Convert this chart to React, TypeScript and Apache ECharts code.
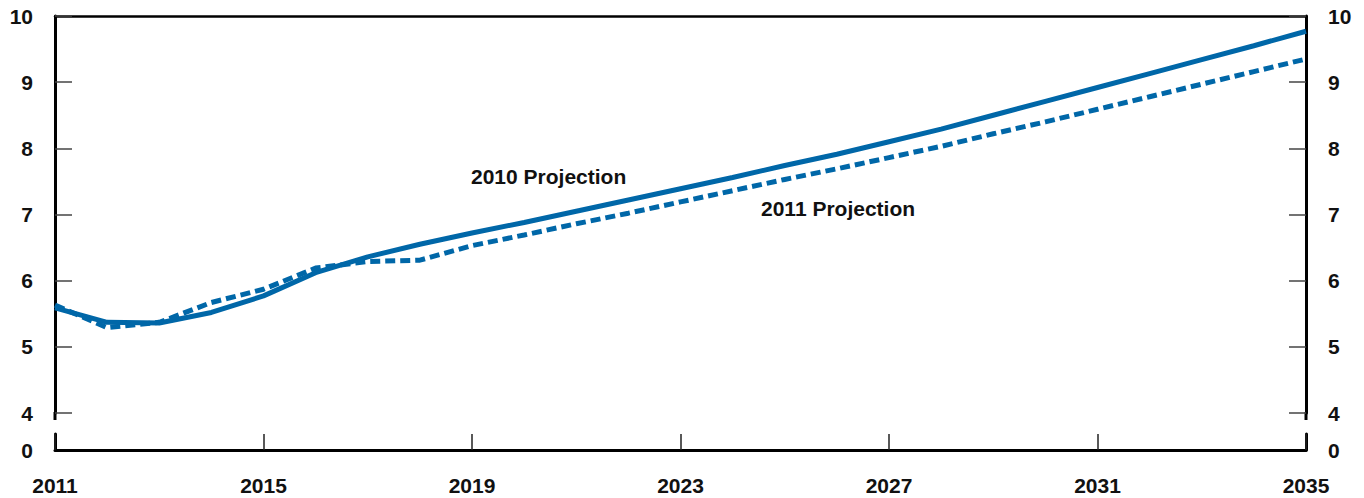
import React, { useEffect, useRef } from "react";
import * as echarts from "echarts";

const years = [
  "2011", "2012", "2013", "2014", "2015", "2016", "2017", "2018", "2019", "2020",
  "2021", "2022", "2023", "2024", "2025", "2026", "2027", "2028", "2029", "2030",
  "2031", "2032", "2033", "2034", "2035",
];

const proj2010 = [
  5.59, 5.37, 5.36, 5.52, 5.77, 6.12, 6.36, 6.55, 6.72, 6.88,
  7.05, 7.22, 7.39, 7.56, 7.74, 7.91, 8.1, 8.29, 8.5, 8.71,
  8.92, 9.13, 9.34, 9.55, 9.77,
];

const proj2011 = [
  5.63, 5.29, 5.37, 5.67, 5.87, 6.19, 6.29, 6.31, 6.53, 6.69,
  6.86, 7.02, 7.19, 7.36, 7.53, 7.69, 7.86, 8.03, 8.22, 8.4,
  8.59, 8.78, 8.97, 9.16, 9.35,
];

const seriesNames = ["2010 Projection", "2011 Projection"];

const BLUE = "#0067a8";
const FONT = "'Liberation Sans', Arial, sans-serif";
const FS = 21;
const labelStyle = {
  fontFamily: FONT,
  fontWeight: "bold" as const,
  fontSize: FS,
  color: "#111",
};

export default function App() {
  const ref = useRef<HTMLDivElement>(null);

  useEffect(() => {
    document.body.style.margin = "0";
    if (!ref.current) return;
    const chart = echarts.init(ref.current, null, { renderer: "svg" });

    const mainY = (position: "left" | "right") => ({
      gridIndex: 0,
      type: "value",
      min: 4,
      max: 10,
      interval: 1,
      position,
      axisLine: { show: true, onZero: false, lineStyle: { color: "#000", width: 3 } },
      axisTick: { show: true, inside: true, length: 17, lineStyle: { color: "#444", width: 1.5 } },
      axisLabel: { ...labelStyle, margin: 22 },
      splitLine: { show: false },
    });

    const lowY = (position: "left" | "right") => ({
      gridIndex: 1,
      type: "value",
      min: 0,
      max: 1,
      interval: 1,
      position,
      axisLine: { show: true, onZero: false, lineStyle: { color: "#000", width: 3 } },
      axisTick: { show: false },
      axisLabel: {
        ...labelStyle,
        margin: 22,
        formatter: (v: number) => (v === 0 ? "0" : ""),
      },
      splitLine: { show: false },
    });

    const option = {
      animation: false,
      grid: [
        { left: 55, right: 58, top: 16, height: 397 },
        { left: 55, right: 58, top: 434, height: 16 },
      ],
      xAxis: [
        {
          gridIndex: 0,
          type: "category",
          data: years,
          boundaryGap: false,
          position: "top",
          axisLine: { show: true, onZero: false, lineStyle: { color: "#000", width: 2.5 } },
          axisTick: { show: false },
          axisLabel: { show: false },
          splitLine: { show: false },
        },
        {
          gridIndex: 1,
          type: "category",
          data: years,
          boundaryGap: false,
          position: "bottom",
          axisLine: { show: true, onZero: false, lineStyle: { color: "#000", width: 3 } },
          axisTick: {
            show: true,
            inside: true,
            length: 16,
            interval: 3,
            lineStyle: { color: "#222", width: 1.5 },
          },
          axisLabel: { ...labelStyle, interval: 3, margin: 25 },
          splitLine: { show: false },
        },
      ],
      yAxis: [mainY("left"), mainY("right"), lowY("left"), lowY("right")],
      series: [
        {
          name: seriesNames[0],
          type: "line",
          xAxisIndex: 0,
          yAxisIndex: 0,
          data: proj2010,
          symbol: "none",
          lineStyle: { color: BLUE, width: 5 },
        },
        {
          name: seriesNames[1],
          type: "line",
          xAxisIndex: 0,
          yAxisIndex: 0,
          data: proj2011,
          symbol: "none",
          lineStyle: { color: BLUE, width: 5, type: [10, 5] },
        },
      ],
      graphic: [
        { type: "line", shape: { x1: 55, y1: 412, x2: 55, y2: 420 }, style: { stroke: "#000", lineWidth: 3 } },
        { type: "line", shape: { x1: 1306, y1: 412, x2: 1306, y2: 420 }, style: { stroke: "#000", lineWidth: 3 } },
        {
          type: "text",
          x: 471,
          y: 176.5,
          style: {
            text: seriesNames[0],
            fontFamily: FONT,
            fontWeight: "bold",
            fontSize: FS,
            fill: "#111",
            align: "left",
            verticalAlign: "middle",
          },
        },
        {
          type: "text",
          x: 761,
          y: 208.5,
          style: {
            text: seriesNames[1],
            fontFamily: FONT,
            fontWeight: "bold",
            fontSize: FS,
            fill: "#111",
            align: "left",
            verticalAlign: "middle",
          },
        },
      ],
    };

    chart.setOption(option as any);
    return () => chart.dispose();
  }, []);

  return <div ref={ref} style={{ width: 1364, height: 498 }} />;
}
